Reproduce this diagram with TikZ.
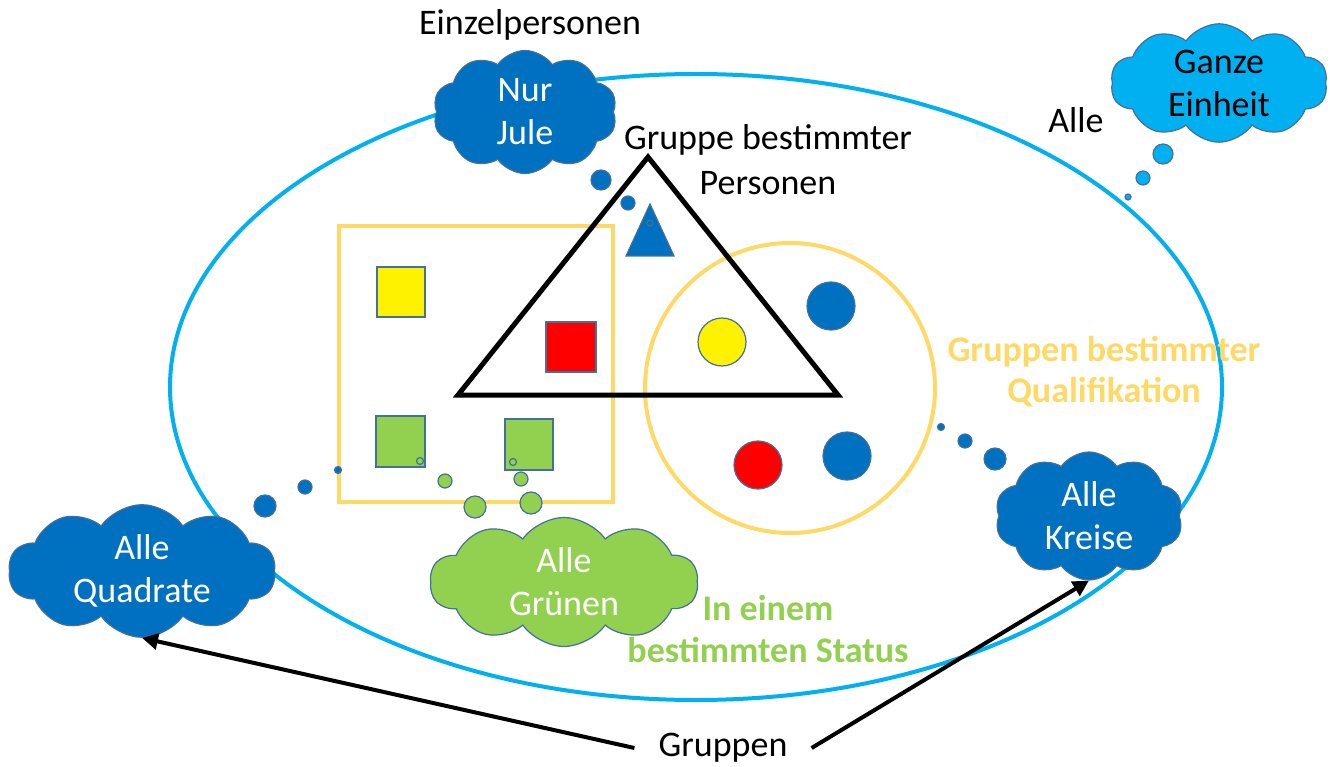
\documentclass[tikz,border=0pt]{standalone}
\usepackage{fontspec}
\setmainfont{Carlito}
\usetikzlibrary{shapes.symbols,arrows.meta}

\definecolor{allblue}{HTML}{00B0F0}
\definecolor{darkblue}{HTML}{0070C0}
\definecolor{qualiorange}{HTML}{FFD966}
\definecolor{statusgreen}{HTML}{92D050}
\definecolor{edgegrey}{HTML}{41719C}

\tikzset{
  thought/.style={cloud, cloud puffs=10, cloud puff arc=110, draw=edgegrey, line width=1.2pt,
    align=center, inner sep=0pt, font=\fontsize{36}{43}\selectfont},
  piece/.style={draw=edgegrey, line width=1.2pt},
  bubble/.style={fill=#1, draw=edgegrey, line width=1.2pt},
  label/.style={align=center, inner sep=0pt, font=\fontsize{36}{45}\selectfont}
}

\begin{document}
\begin{tikzpicture}[x=1pt,y=-1pt]
    \useasboundingbox (0,0) rectangle (1330,767);

    % das Ganze
    \draw[allblue, line width=4pt] (696,387) ellipse [x radius=526pt, y radius=313pt];

    % Gruppen bestimmter Qualifikation
    \draw[qualiorange, line width=4pt] (339,226) rectangle (613,502);
    \draw[qualiorange, line width=4pt] (790,388) circle (145pt);

    % Quadrate
    \draw[piece, fill=yellow] (377,267) rectangle (425,317);
    \draw[piece, fill=red] (546,322) rectangle (596,372);
    \draw[piece, fill=statusgreen] (376,416) rectangle (425,467);
    \draw[piece, fill=statusgreen] (505,419) rectangle (553,470);

    % Kreise
    \draw[piece, fill=darkblue] (831,306) circle (24pt);
    \draw[piece, fill=yellow] (722,342) circle (24pt);
    \draw[piece, fill=red] (758,465) circle (24pt);
    \draw[piece, fill=darkblue] (847,456) circle (24pt);

    % Gruppe bestimmter Personen
    \draw[piece, fill=darkblue] (626,256) -- (650,204) -- (674,256) -- cycle;
    \draw[black, line width=5pt, line join=miter] (458,395) -- (648,157) -- (838,395) -- cycle;

    % Gedankenblasen
    \draw[bubble=darkblue] (601,180) circle (10pt);
    \draw[bubble=darkblue] (628,203) circle (7pt);
    \draw[piece] (650,223) circle (3pt);

    \draw[bubble=allblue] (1163,154) circle (10pt);
    \draw[bubble=allblue] (1143,178) circle (7pt);
    \draw[bubble=allblue] (1128,197) circle (3pt);

    \draw[bubble=darkblue] (265,506) circle (11pt);
    \draw[bubble=darkblue] (305,487) circle (7pt);
    \draw[bubble=darkblue] (338,470) circle (3.5pt);
    \draw[piece] (420,461) circle (3.5pt);

    \draw[piece] (513,462) circle (3.5pt);
    \draw[bubble=statusgreen] (445,481) circle (7pt);
    \draw[bubble=statusgreen] (475,507) circle (11pt);
    \draw[bubble=statusgreen] (521,479) circle (7pt);
    \draw[bubble=statusgreen] (531,503) circle (11pt);

    \draw[bubble=darkblue] (941,427) circle (3.5pt);
    \draw[bubble=darkblue] (965,441) circle (7pt);
    \draw[bubble=darkblue] (995,459) circle (11pt);

    % Wolken
    \node[thought, aspect=1.5, fill=darkblue, text=white, minimum width=184pt, minimum height=123pt] (jule) at (525,112) {Nur\\Jule};
    \node[thought, aspect=1.9, fill=allblue, text=black, minimum width=217pt, minimum height=115pt] (ganze) at (1219,83) {Ganze\\Einheit};
    \node[thought, aspect=2.1, fill=darkblue, text=white, minimum width=267pt, minimum height=128pt] (quadrate) at (142,571) {Alle\\Quadrate};
    \node[thought, aspect=2.1, fill=statusgreen, text=white, minimum width=268pt, minimum height=129pt] (gruenen) at (564,582) {Alle\\Grünen};
    \node[thought, aspect=1.5, fill=darkblue, text=white, minimum width=188pt, minimum height=128pt] (kreise) at (1089,516) {Alle\\Kreise};

    % Beschriftungen
    \node[label] (einzel) at (530,25) {Einzelpersonen};
    \node[label] (personen) at (768,160) {Gruppe bestimmter\\Personen};
    \node[label] (alle) at (1076,120) {Alle};
    \node[label, text=qualiorange, font=\fontsize{36}{41}\selectfont\bfseries] (quali) at (1104,372) {Gruppen bestimmter\\Qualifikation};
    \node[label, text=statusgreen, font=\fontsize{36}{42}\selectfont\bfseries] (status) at (768,629) {In einem\\bestimmten Status};
    \node[label, inner xsep=24pt] (gruppen) at (723,748) {Gruppen};

    \draw[line width=4pt, -{Triangle[length=16pt,width=16pt]}] (gruppen.west) -- (quadrate.south);
    \draw[line width=4pt, -{Triangle[length=16pt,width=16pt]}] (gruppen.east) -- (kreise.south);

\end{tikzpicture}
\end{document}
